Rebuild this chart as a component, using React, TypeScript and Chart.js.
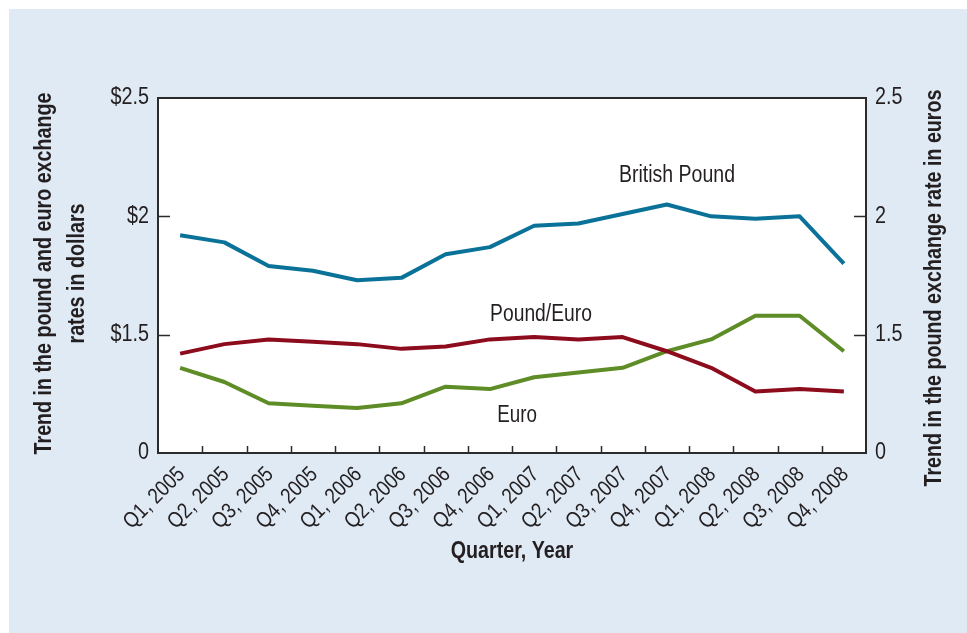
import { useEffect, useRef } from 'react';
import { Chart, registerables } from 'chart.js';

Chart.register(...registerables);

// ---- data ----
const quarters = [
  'Q1, 2005', 'Q2, 2005', 'Q3, 2005', 'Q4, 2005',
  'Q1, 2006', 'Q2, 2006', 'Q3, 2006', 'Q4, 2006',
  'Q1, 2007', 'Q2, 2007', 'Q3, 2007', 'Q4, 2007',
  'Q1, 2008', 'Q2, 2008', 'Q3, 2008', 'Q4, 2008',
];
// values in axis units (broken axis: the bottom "0" sits at 1.0)
const britishPound = [1.92, 1.89, 1.79, 1.77, 1.73, 1.74, 1.84, 1.87, 1.96, 1.97, 2.01, 2.05, 2.0, 1.99, 2.0, 1.8];
const poundEuro = [1.42, 1.46, 1.48, 1.47, 1.46, 1.44, 1.45, 1.48, 1.49, 1.48, 1.49, 1.43, 1.36, 1.26, 1.27, 1.26];
const euro = [1.36, 1.3, 1.21, 1.2, 1.19, 1.21, 1.28, 1.27, 1.32, 1.34, 1.36, 1.43, 1.48, 1.58, 1.58, 1.43];

const axisTicks = [1, 1.5, 2, 2.5];
const leftTickLabels = ['0', '$1.5', '$2', '$2.5'];
const rightTickLabels = ['0', '1.5', '2', '2.5'];
const seriesNames = ['British Pound', 'Pound/Euro', 'Euro'];
const leftTitle = ['Trend in the pound and euro exchange', 'rates in dollars'];
const rightTitle = 'Trend in the pound exchange rate in euros';
const xTitle = 'Quarter, Year';

// ---- styles ----
const FAMILY = "'Liberation Sans', Arial, sans-serif";
const TEXT = '#231f20';
const FRAME = '#2b2b2b';
const BLUE = '#0a7298';
const RED = '#8c0b1c';
const GREEN = '#5e8c26';
const PANEL = '#e0eaf5';

// draws text horizontally compressed by `squeeze` to mimic a condensed face
function drawText(
  ctx: CanvasRenderingContext2D,
  text: string,
  x: number,
  y: number,
  font: string,
  align: CanvasTextAlign,
  baseline: CanvasTextBaseline,
  squeeze: number,
  rotation = 0,
) {
  ctx.save();
  ctx.translate(x, y);
  if (rotation) ctx.rotate(rotation);
  ctx.scale(squeeze, 1);
  ctx.font = font;
  ctx.fillStyle = TEXT;
  ctx.textAlign = align;
  ctx.textBaseline = baseline;
  ctx.fillText(text, 0, 0);
  ctx.restore();
}

const decor = {
  id: 'decor',
  beforeDraw(chart: any) {
    const { ctx, width, height, chartArea: a } = chart;
    ctx.save();
    ctx.fillStyle = '#ffffff';
    ctx.fillRect(0, 0, width, height);
    ctx.fillStyle = PANEL;
    ctx.fillRect(9, 9, width - 9, height - 9);
    ctx.fillStyle = '#ffffff';
    ctx.fillRect(a.left, a.top, a.right - a.left, a.bottom - a.top);
    ctx.restore();
  },
  afterDraw(chart: any) {
    const { ctx, chartArea: a } = chart;
    const xs = chart.scales.x;
    const yl = chart.scales.y;
    const yr = chart.scales.y2;
    ctx.save();
    // frame
    ctx.strokeStyle = FRAME;
    ctx.lineWidth = 2;
    ctx.strokeRect(a.left, a.top, a.right - a.left, a.bottom - a.top);
    // inward ticks
    ctx.beginPath();
    axisTicks.slice(1, -1).forEach((v) => {
      const py = Math.round(yl.getPixelForValue(v)) + 0.5;
      ctx.moveTo(a.left, py);
      ctx.lineTo(a.left + 12, py);
      const pr = Math.round(yr.getPixelForValue(v)) + 0.5;
      ctx.moveTo(a.right, pr);
      ctx.lineTo(a.right - 12, pr);
    });
    for (let i = 0; i < quarters.length - 1; i++) {
      const px = Math.round((xs.getPixelForValue(i) + xs.getPixelForValue(i + 1)) / 2) + 0.5;
      ctx.moveTo(px, a.bottom);
      ctx.lineTo(px, a.bottom - 7);
    }
    ctx.lineWidth = 1.5;
    ctx.stroke();
    ctx.restore();

    // y tick labels (from the scales)
    const yTickFont = `23px ${FAMILY}`;
    yl.ticks.forEach((t: any, i: number) => {
      drawText(ctx, String(t.label), a.left - 9, yl.getPixelForTick(i), yTickFont, 'right', 'middle', 0.86);
    });
    yr.ticks.forEach((t: any, i: number) => {
      drawText(ctx, String(t.label), a.right + 9, yr.getPixelForTick(i), yTickFont, 'left', 'middle', 0.86);
    });
    // x tick labels, rotated 45°
    const xTickFont = `22px ${FAMILY}`;
    xs.ticks.forEach((t: any, i: number) => {
      const label = xs.getLabelForValue(t.value);
      drawText(ctx, label, xs.getPixelForTick(i) + 1.5, a.bottom + 18, xTickFont, 'right', 'middle', 0.85, -Math.PI / 4);
    });

    // series annotations
    const annFont = `23.5px ${FAMILY}`;
    drawText(ctx, seriesNames[0], 677, 182, annFont, 'center', 'alphabetic', 0.83);
    drawText(ctx, seriesNames[1], 541, 321, annFont, 'center', 'alphabetic', 0.82);
    drawText(ctx, seriesNames[2], 517, 422, annFont, 'center', 'alphabetic', 0.8);

    // axis titles
    const titleFont = `bold 24px ${FAMILY}`;
    drawText(ctx, xTitle, (a.left + a.right) / 2, 558, titleFont, 'center', 'alphabetic', 0.82);
    const cy = (a.top + a.bottom) / 2 - 2;
    drawText(ctx, leftTitle[0], 51, cy, titleFont, 'center', 'alphabetic', 0.82, -Math.PI / 2);
    drawText(ctx, leftTitle[1], 84, cy, titleFont, 'center', 'alphabetic', 0.82, -Math.PI / 2);
    drawText(ctx, rightTitle, 941, 288, titleFont, 'center', 'alphabetic', 0.82, -Math.PI / 2);
  },
};

export default function App() {
  const ref = useRef<HTMLCanvasElement | null>(null);

  useEffect(() => {
    if (!ref.current) return;
    const chart = new Chart(ref.current, {
      type: 'line',
      data: {
        labels: quarters,
        datasets: [
          { label: seriesNames[0], data: britishPound, borderColor: BLUE, yAxisID: 'y' },
          { label: seriesNames[1], data: poundEuro, borderColor: RED, yAxisID: 'y2' },
          { label: seriesNames[2], data: euro, borderColor: GREEN, yAxisID: 'y' },
        ].map((d) => ({
          ...d,
          borderWidth: 4,
          pointRadius: 0,
          pointHoverRadius: 0,
          tension: 0,
          fill: false,
          borderJoinStyle: 'round' as const,
          borderCapStyle: 'butt' as const,
        })),
      },
      options: {
        responsive: false,
        animation: false,
        devicePixelRatio: 1,
        events: [],
        layout: { padding: { top: 98, left: 0, right: 0, bottom: 0 } },
        plugins: {
          legend: { display: false },
          title: { display: false },
          tooltip: { enabled: false },
        },
        scales: {
          x: {
            type: 'category',
            offset: true,
            grid: { display: false, drawTicks: false },
            border: { display: false },
            ticks: { display: false, autoSkip: false },
            afterFit: (s: any) => {
              s.height = 180;
            },
          },
          y: {
            type: 'linear',
            position: 'left',
            min: 1,
            max: 2.5,
            grid: { display: false, drawTicks: false },
            border: { display: false },
            afterBuildTicks: (s: any) => {
              s.ticks = axisTicks.map((v) => ({ value: v }));
            },
            ticks: {
              display: false,
              callback: (v: any) => leftTickLabels[axisTicks.indexOf(Number(v))],
            },
            afterFit: (s: any) => {
              s.width = 158;
            },
          },
          y2: {
            type: 'linear',
            position: 'right',
            min: 1,
            max: 2.5,
            grid: { display: false, drawTicks: false },
            border: { display: false },
            afterBuildTicks: (s: any) => {
              s.ticks = axisTicks.map((v) => ({ value: v }));
            },
            ticks: {
              display: false,
              callback: (v: any) => rightTickLabels[axisTicks.indexOf(Number(v))],
            },
            afterFit: (s: any) => {
              s.width = 101;
            },
          },
        },
      },
      plugins: [decor],
    });
    return () => chart.destroy();
  }, []);

  return (
    <div style={{ position: 'absolute', left: 0, top: 0, width: 967, height: 633 }}>
      <canvas ref={ref} width={967} height={633} style={{ display: 'block' }} />
    </div>
  );
}
